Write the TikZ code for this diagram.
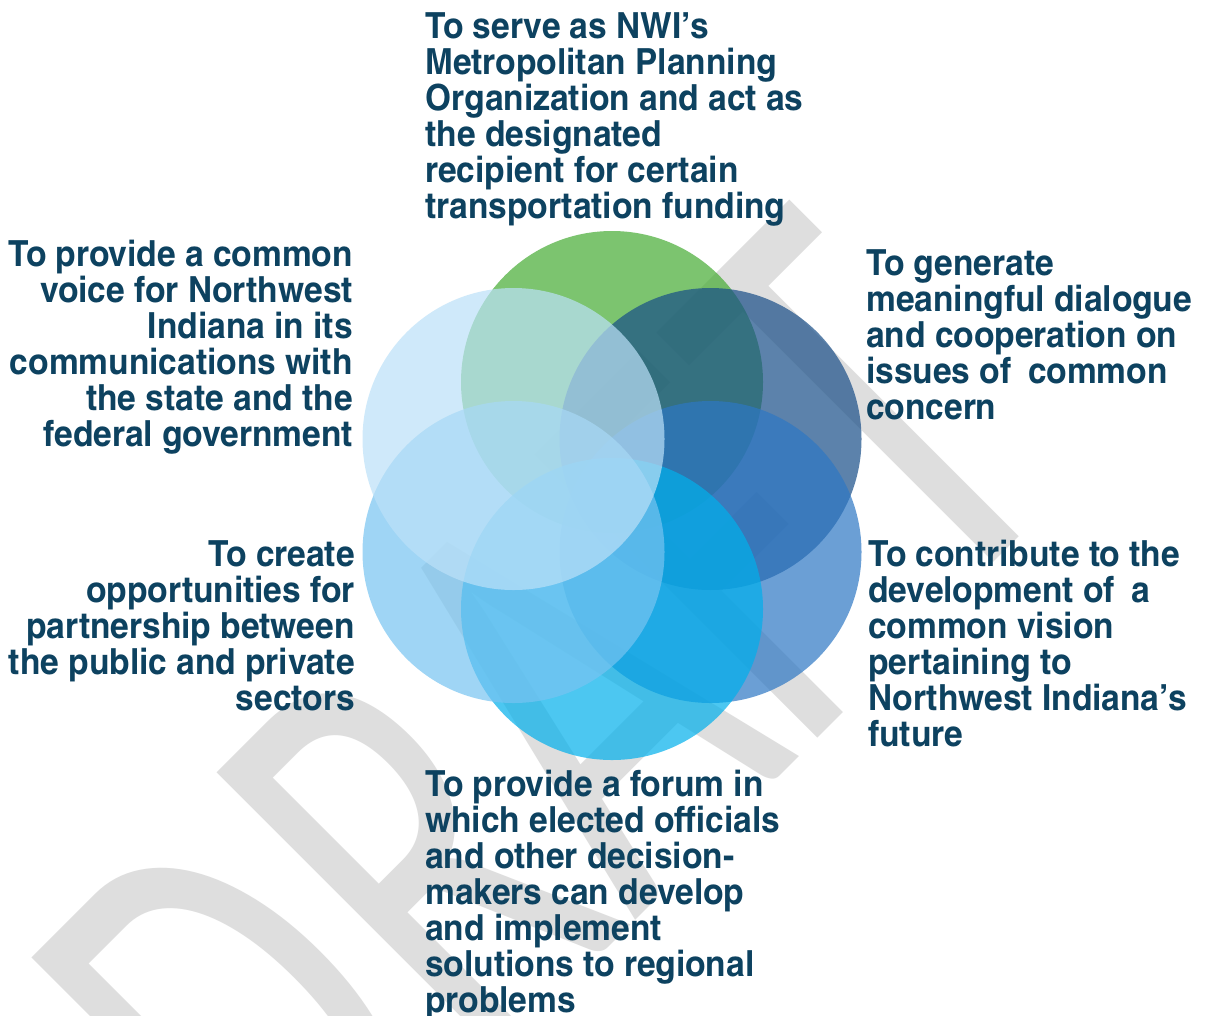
\documentclass[tikz,border=0pt]{standalone}
\usepackage{fontspec}
\setmainfont{texgyreheroscn-bold}[Extension=.otf, FakeStretch=1.135]
\newfontfamily\wmfont{Carlito}
\definecolor{txtc}{HTML}{0D4260}
\definecolor{wmgray}{HTML}{DEDEDE}
\definecolor{cgreen}{HTML}{45AB33}
\definecolor{ctr}{HTML}{184E88}
\definecolor{cbr}{HTML}{2D77C4}
\definecolor{ccyan}{HTML}{00B0EC}
\definecolor{cbl}{HTML}{77C4F1}
\definecolor{ctl}{HTML}{BCE1F8}
\newcommand\wmletter[2]{\makebox[#1pt][c]{\scalebox{0.65}[1]{#2}}}
\tikzset{
  txt/.style={text=txtc, inner sep=0pt, font=\fontsize{27}{27}\selectfont},
  lblock/.style={txt, align=left, anchor=north west},
  rblock/.style={txt, align=right, anchor=north east},
  disc/.style={circle, draw=none, fill opacity=0.7, minimum size=226.5pt, inner sep=0pt},
  wm/.style={text=wmgray, inner sep=0pt, font=\wmfont\fontsize{468}{468}\selectfont},
}
\begin{document}
\begin{tikzpicture}[x=0.75pt,y=-0.75pt]
\useasboundingbox (0,0) rectangle (1205,1015);
\fill[white] (0,0) rectangle (1205,1015);
% watermark
\begin{scope}
\clip (0,0) rectangle (1205,1015);
\node[wm, anchor=base west, rotate=45] (wmark) at (294,1262)
  {\wmletter{189.75}{D}\wmletter{179.25}{R}\wmletter{159.75}{A}\wmletter{151.1}{F}\wmletter{151.5}{T}};
\end{scope}
% circles
\node[disc, fill=cgreen] (cg) at (612,382) {};
\node[disc, fill=ctr] (ctr) at (710.5,439) {};
\node[disc, fill=cbr] (cbr) at (710.5,552) {};
\node[disc, fill=ccyan] (ccy) at (612,609) {};
\node[disc, fill=cbl] (cbl) at (513.5,552) {};
\node[disc, fill=ctl] (ctl) at (513.5,439) {};
% texts
\node[lblock] (ttop) at (425,12) {To serve as NWI’s\\Metropolitan Planning\\Organization and act as\\the designated\\recipient for certain\\transportation funding};
\node[rblock] (ttl) at (353,240) {To provide a common\\voice for Northwest\\Indiana in its\\communications with\\the state and the\\federal government};
\node[lblock] (ttr) at (866,249) {To generate\\meaningful dialogue\\and cooperation on\\issues of\hskip0.2em\ common\\concern};
\node[rblock] (tbl) at (355,540) {To create\\opportunities for\\partnership between\\the public and private\\sectors};
\node[lblock] (tbr) at (868,540) {To contribute to the\\development of\hskip0.2em\ a\\common vision\\pertaining to\\Northwest Indiana’s\\future};
\node[lblock] (tbot) at (425,770) {To provide a forum in\\which elected officials\\and other decision-\\makers can develop\\and implement\\solutions to regional\\problems};
\end{tikzpicture}
\end{document}
